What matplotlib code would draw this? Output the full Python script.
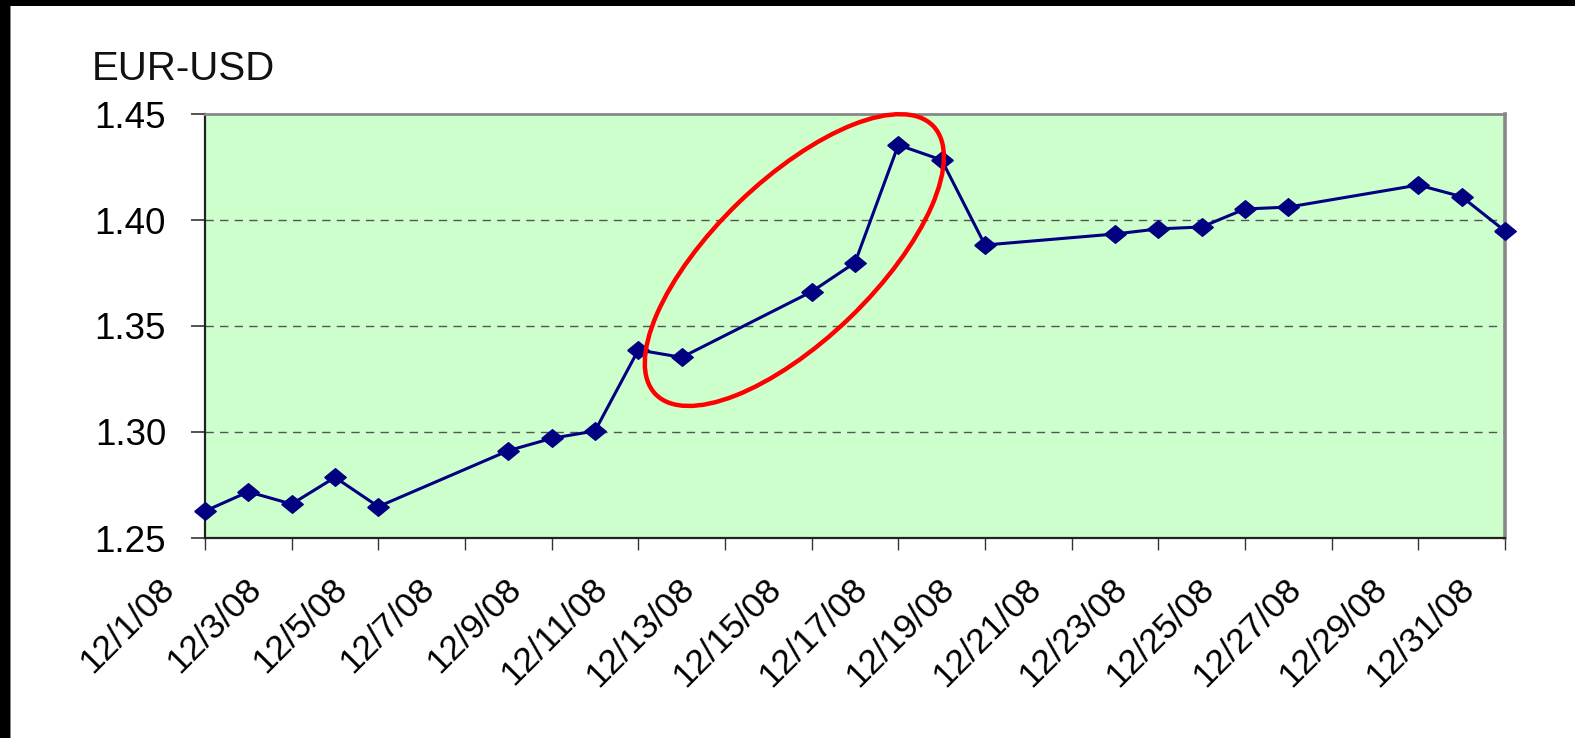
import datetime as dt
import matplotlib
matplotlib.use("Agg")
import matplotlib.pyplot as plt
import matplotlib.dates as mdates
from matplotlib.patches import Ellipse, Rectangle
from matplotlib.transforms import ScaledTranslation

plt.rcParams['font.family'] = ['Liberation Sans', 'DejaVu Sans']

# ---- data ----
days = [1, 2, 3, 4, 5, 8, 9, 10, 11, 12, 15, 16, 17, 18, 19,
        22, 23, 24, 25, 26, 29, 30, 31]
eur_usd = [1.2627, 1.2718, 1.2660, 1.2786, 1.2648, 1.2912, 1.2970, 1.3005,
           1.3387, 1.3352, 1.3662, 1.3799, 1.4354, 1.4283, 1.3882,
           1.3934, 1.3958, 1.3967, 1.4052, 1.4061, 1.4165, 1.4110, 1.3948]
tick_days = [1, 3, 5, 7, 9, 11, 13, 15, 17, 19, 21, 23, 25, 27, 29, 31]
tick_labels = ["12/1/08", "12/3/08", "12/5/08", "12/7/08", "12/9/08",
               "12/11/08", "12/13/08", "12/15/08", "12/17/08", "12/19/08",
               "12/21/08", "12/23/08", "12/25/08", "12/27/08", "12/29/08",
               "12/31/08"]
y_ticks = [1.25, 1.30, 1.35, 1.40, 1.45]
y_tick_labels = ["1.25", "1.30", "1.35", "1.40", "1.45"]
y_title = "EUR-USD"
# highlighted region (centre date/value)
ellipse_day = 14.6
ellipse_val = 1.3811

dates = [dt.datetime(2008, 12, d) for d in days]
tick_dates = [dt.datetime(2008, 12, d) for d in tick_days]

W, H = 1575, 738
fig = plt.figure(figsize=(W / 100, H / 100), dpi=100)
fig.patch.set_facecolor('white')
ax = fig.add_axes([205 / W, 1 - 538 / H, 1300 / W, 424 / H])
ax.set_facecolor('#CCFFCC')

# frame of the picture (black bands top and left)
fig.patches.append(Rectangle((0, 1 - 6 / H), 1, 6 / H, transform=fig.transFigure,
                             facecolor='black', edgecolor='none', zorder=0))
fig.patches.append(Rectangle((0, 0), 10 / W, 1, transform=fig.transFigure,
                             facecolor='black', edgecolor='none', zorder=0))
fig.patches.append(Rectangle((10 / W, 0), 1.2 / W, 1 - 6 / H, transform=fig.transFigure,
                             facecolor='#888888', edgecolor='none', zorder=0))

marker = [(-1, 0), (0, 0.82), (1, 0), (0, -0.82), (-1, 0)]
ax.plot(dates, eur_usd, color='#000080', lw=2.2, marker=marker,
        markersize=15.5, markerfacecolor='#000080', markeredgecolor='#000080',
        clip_on=False, zorder=5)

ax.set_xlim(dt.datetime(2008, 12, 1), dt.datetime(2008, 12, 31))
ax.set_ylim(1.25, 1.45)
ax.set_yticks(y_ticks)
ax.set_yticklabels(y_tick_labels)
ax.set_xticks(tick_dates)
ax.set_xticklabels(tick_labels)

for yv in y_ticks[1:-1]:
    ax.axhline(yv, color='#555555', lw=1.0, linestyle=(0, (6, 4.5)), zorder=1)

ax.tick_params(axis='y', direction='out', length=10, width=1.2, color='#333333',
               pad=18, labelsize=26.5)
ax.tick_params(axis='x', direction='out', length=8.6, width=1.0, color='#333333',
               pad=4, labelsize=25.5)

for sp in ['left', 'bottom']:
    ax.spines[sp].set_color('#222222')
    ax.spines[sp].set_linewidth(1.6)
ax.spines['top'].set_color('#888888')
ax.spines['top'].set_linewidth(2.0)
ax.spines['right'].set_color('#888888')
ax.spines['right'].set_linewidth(2.6)

offset = ScaledTranslation(-36 / 100, -28 / 100, fig.dpi_scale_trans)
for lbl in ax.get_xticklabels():
    lbl.set_rotation(45)
    lbl.set_rotation_mode('anchor')
    lbl.set_ha('right')
    lbl.set_va('center')
    lbl.set_transform(lbl.get_transform() + offset)

fig.text(92 / W, 1 - 80 / H, y_title, fontsize=29, ha='left', va='baseline',
         color='#111111')

# red highlighting ellipse, sized in pixels, anchored at a data point
ell_trans = fig.dpi_scale_trans + ScaledTranslation(
    mdates.date2num(dt.datetime(2008, 12, 1)) + ellipse_day - 1, ellipse_val, ax.transData)
ell = Ellipse((0, 0), 3.86, 1.60, angle=44, transform=ell_trans, fill=False,
              edgecolor='#FF0000', lw=3.2, zorder=6, clip_on=False)
ax.add_patch(ell)

fig.savefig('out.png', dpi=100)
